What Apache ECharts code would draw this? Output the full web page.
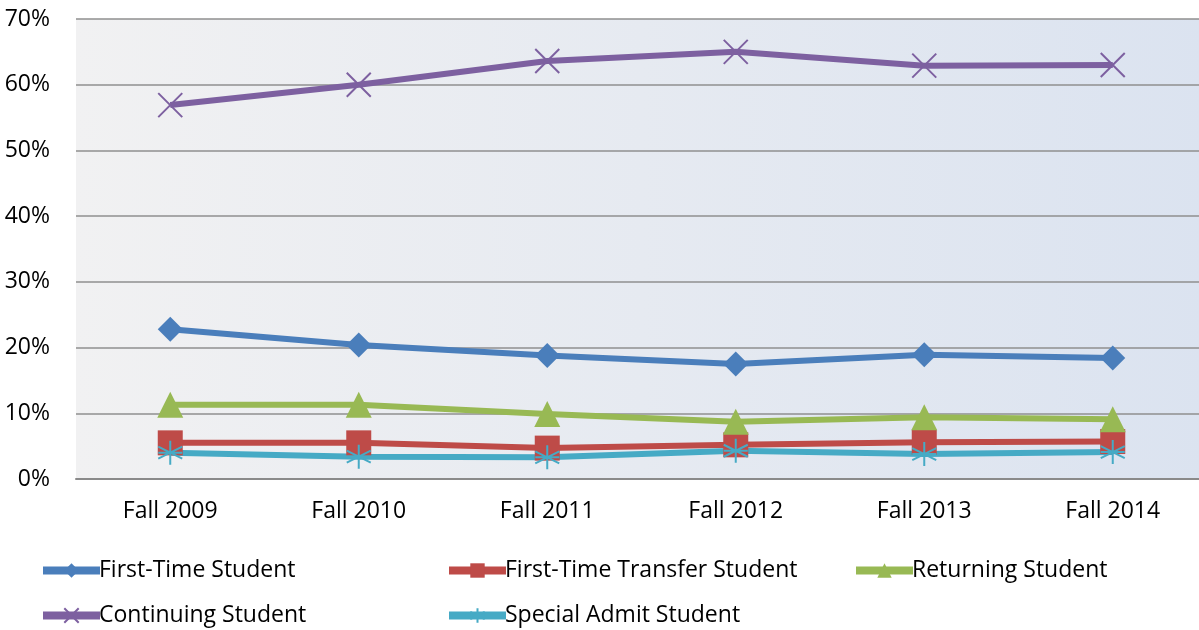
<!DOCTYPE html>
<html>
<head>
<meta charset="utf-8">
<script src="https://cdn.jsdelivr.net/npm/echarts@6/dist/echarts.min.js"></script>
<style>html,body{margin:0;padding:0;background:#fff;overflow:hidden;width:1199px;height:630px}#c{width:1207px;height:630px}</style>
</head>
<body>
<div id="c"></div>
<script>
var categories = ['Fall 2009', 'Fall 2010', 'Fall 2011', 'Fall 2012', 'Fall 2013', 'Fall 2014'];
var firstTime = [22.8, 20.4, 18.8, 17.5, 18.9, 18.4];
var firstTimeTransfer = [5.5, 5.5, 4.7, 5.2, 5.6, 5.7];
var returning = [11.3, 11.3, 9.9, 8.7, 9.4, 9.1];
var continuing = [56.9, 60.0, 63.6, 65.0, 62.9, 63.0];
var specialAdmit = [4.0, 3.4, 3.3, 4.3, 3.8, 4.1];
var seriesNames = ['First-Time Student', 'First-Time Transfer Student', 'Returning Student', 'Continuing Student', 'Special Admit Student'];
var yTicks = [0, 10, 20, 30, 40, 50, 60, 70];

var FONT = '"Open Sans", sans-serif';
var X_PATH = 'path://M0,0L10,10M10,0L0,10';
var STAR_PATH = 'path://M5,0L5,10M0,2.5L10,7.5M0,7.5L10,2.5M0,5L10,5';

function mk(name, data, color, symbol, size, stroke) {
  return {
    name: name, type: 'line', data: data,
    symbol: symbol, symbolSize: size, showSymbol: true,
    lineStyle: { color: color, width: 6 },
    itemStyle: stroke ? { color: 'rgba(0,0,0,0)', borderColor: color, borderWidth: 2 } : { color: color, borderWidth: 0 },
    emphasis: { disabled: true },
    animation: false
  };
}

var chart = echarts.init(document.getElementById('c'));
var legendText = { fontFamily: FONT, fontSize: 23, color: '#000', padding: [0, 0, 0, -6] };
var legendBase = { orient: 'vertical', top: 559, padding: 0, itemWidth: 57, itemHeight: 18, itemGap: 22, textStyle: legendText, selectedMode: false, lineStyle: { width: 8 } };
chart.setOption({
  backgroundColor: '#fff',
  animation: false,
  grid: {
    left: 76, right: 0, top: 19, bottom: 151, show: true, borderWidth: 0,
    backgroundColor: new echarts.graphic.LinearGradient(0, 0, 1, 0, [
      { offset: 0, color: '#F1F1F2' }, { offset: 1, color: '#DBE3F0' }
    ])
  },
  xAxis: {
    type: 'category', data: categories, boundaryGap: true,
    axisLine: { show: true, lineStyle: { color: '#8a8a8a', width: 2 } },
    axisTick: { show: false },
    axisLabel: { fontFamily: FONT, fontSize: 23, color: '#000', margin: 21 }
  },
  yAxis: {
    type: 'value', min: yTicks[0], max: yTicks[yTicks.length - 1], interval: 10,
    axisLine: { show: false }, axisTick: { show: false },
    splitLine: { lineStyle: { color: '#8f8f8f', width: 1.5 } },
    axisLabel: { fontFamily: FONT, fontSize: 23, color: '#000', margin: 26, formatter: '{value}%' }
  },
  legend: [
    Object.assign({ data: [seriesNames[0], seriesNames[3]], left: 39 }, legendBase),
    Object.assign({ data: [seriesNames[1], seriesNames[4]], left: 445 }, legendBase),
    Object.assign({ data: [seriesNames[2]], left: 852 }, legendBase)
  ],
  series: [
    mk(seriesNames[0], firstTime, '#4A7EBB', 'diamond', 25, false),
    mk(seriesNames[1], firstTimeTransfer, '#BE4B48', 'rect', 25, false),
    mk(seriesNames[2], returning, '#98B954', 'triangle', 26, false),
    mk(seriesNames[3], continuing, '#7D60A0', X_PATH, 24, true),
    mk(seriesNames[4], specialAdmit, '#46AAC5', STAR_PATH, 24, true)
  ]
});
</script>
</body>
</html>
